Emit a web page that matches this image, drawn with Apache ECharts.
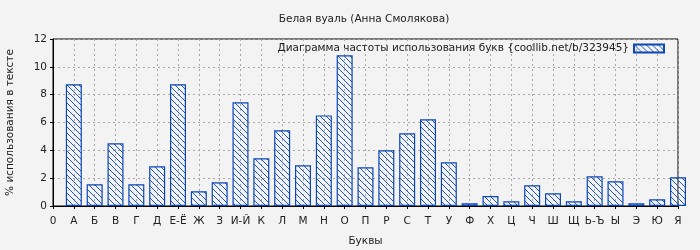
<!DOCTYPE html>
<html>
<head>
<meta charset="utf-8">
<script src="https://cdn.jsdelivr.net/npm/echarts@6/dist/echarts.min.js"></script>
<style>
html,body{margin:0;padding:0;background:#f3f3f3;}
#c{width:700px;height:250px;}
</style>
</head>
<body>
<div id="c"></div>
<script>
var letters = ['0','А','Б','В','Г','Д','Е-Ё','Ж','З','И-Й','К','Л','М','Н','О','П','Р','С','Т','У','Ф','Х','Ц','Ч','Ш','Щ','Ь-Ъ','Ы','Э','Ю','Я'];
var values = [null,8.75,1.56,4.5,1.56,2.85,8.75,1.06,1.7,7.45,3.43,5.44,2.92,6.51,10.83,2.78,4.0,5.22,6.23,3.14,0.19,0.72,0.34,1.49,0.91,0.34,2.13,1.77,0.19,0.48,2.06];
var yTicks = [0,2,4,6,8,10,12];
var titleText = 'Белая вуаль (Анна Смолякова)';
var seriesName = 'Диаграмма частоты использования букв {coollib.net/b/323945}';

var pat = document.createElement('canvas');
pat.width = 6; pat.height = 6;
var ctx = pat.getContext('2d');
ctx.fillStyle = '#1d55c4';
for (var i = 0; i < 6; i++) { ctx.fillRect(i, i, 1, 1); }

var font = 'DejaVu Sans';
var fs = 10.5;
var chart = echarts.init(document.getElementById('c'), null, {renderer: 'canvas'});
chart.setOption({
  backgroundColor: '#f3f3f3',
  animation: false,
  textStyle: {fontFamily: font},
  title: {
    text: titleText, left: 364, top: 14, textAlign: 'center', padding: 0,
    textStyle: {fontFamily: font, fontSize: fs, fontWeight: 'normal', color: '#222'}
  },
  legend: {
    right: 35, top: 43, align: 'right', icon: 'rect', padding: 0,
    itemWidth: 30, itemHeight: 8, itemGap: 8,
    textStyle: {fontFamily: font, fontSize: fs, color: '#222'},
    data: [seriesName]
  },
  grid: {
    left: 53, right: 22, top: 39, bottom: 44,
    containLabel: false, outerBoundsMode: 'none',
    show: true, borderColor: '#000', borderWidth: 1, backgroundColor: 'transparent'
  },
  xAxis: {
    type: 'category', data: letters, boundaryGap: false,
    name: 'Буквы', nameLocation: 'middle', nameGap: 30,
    nameTextStyle: {fontFamily: font, fontSize: fs, color: '#222'},
    axisLine: {lineStyle: {color: '#000', width: 1}},
    axisTick: {show: true, length: 3, inside: false, lineStyle: {color: '#000'}},
    axisLabel: {interval: 0, fontFamily: font, fontSize: fs, color: '#222', margin: 10},
    splitLine: {show: true, lineStyle: {color: '#a8a8a8', type: [2, 3], width: 1}}
  },
  yAxis: {
    type: 'value', min: 0, max: 12, interval: 2,
    name: '% использования в тексте', nameLocation: 'middle', nameGap: 37,
    nameTextStyle: {fontFamily: font, fontSize: fs, color: '#222'},
    axisLine: {show: true, lineStyle: {color: '#000', width: 1}},
    axisTick: {show: true, length: 3, lineStyle: {color: '#000'}},
    axisLabel: {fontFamily: font, fontSize: fs, color: '#222', margin: 6,
      formatter: function (v) { return yTicks.indexOf(v) >= 0 ? String(v) : ''; }},
    splitLine: {show: true, lineStyle: {color: '#a8a8a8', type: [2, 3], width: 1}}
  },
  series: [{
    name: seriesName, type: 'bar', data: values, barWidth: 16, clip: true,
    itemStyle: {color: {image: pat, repeat: 'repeat'}, borderColor: '#0b47b5', borderWidth: 1.2}
  }]
});
</script>
</body>
</html>
